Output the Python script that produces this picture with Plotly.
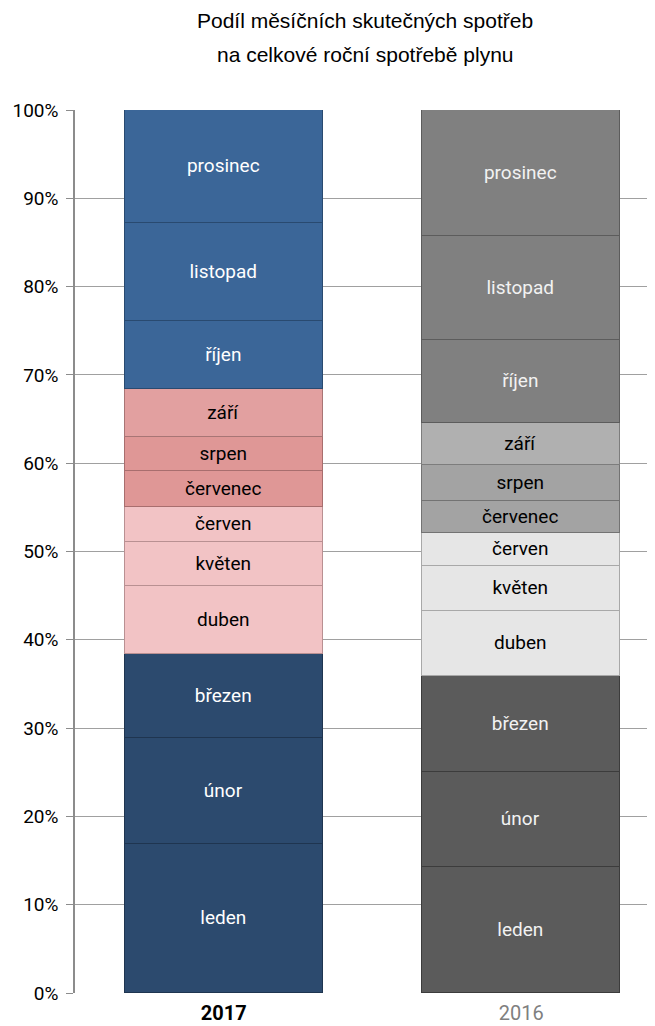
import plotly.graph_objects as go

years = ["2017", "2016"]
year_labels = ["<b>2017</b>", "<span style='color:#7f7f7f'>2016</span>"]
months = ["leden", "únor", "březen", "duben", "květen", "červen",
          "červenec", "srpen", "září", "říjen", "listopad", "prosinec"]
share_2017 = [16.87, 11.97, 9.52, 7.77, 4.91, 4.03, 4.08, 3.85, 5.40, 7.65, 11.12, 12.83]
share_2016 = [14.24, 10.82, 10.84, 7.40, 5.09, 3.67, 3.69, 4.05, 4.72, 9.43, 11.78, 14.27]
y_ticks = [0, 10, 20, 30, 40, 50, 60, 70, 80, 90, 100]
title_lines = ["Podíl měsíčních skutečných spotřeb", "na celkové roční spotřebě plynu"]

colors_2017 = ["#2c4a6e", "#2c4a6e", "#2c4a6e", "#f2c3c5", "#f2c3c5", "#f2c3c5",
               "#df9796", "#df9796", "#e2a0a0", "#3b6698", "#3b6698", "#3b6698"]
colors_2016 = ["#5b5b5b", "#5b5b5b", "#5b5b5b", "#e6e6e6", "#e6e6e6", "#e6e6e6",
               "#a3a3a3", "#a3a3a3", "#b0b0b0", "#808080", "#808080", "#808080"]
lines_2017 = ["#1f3550", "#1f3550", "#1f3550", "#b99092", "#b99092", "#b99092",
              "#a86e6e", "#a86e6e", "#a87575", "#294a70", "#294a70", "#294a70"]
lines_2016 = ["#3c3c3c", "#3c3c3c", "#3c3c3c", "#a8a8a8", "#a8a8a8", "#a8a8a8",
              "#737373", "#737373", "#7d7d7d", "#5c5c5c", "#5c5c5c", "#5c5c5c"]
text_2017 = ["white"] * 3 + ["black"] * 6 + ["white"] * 3
text_2016 = ["#f2f2f2"] * 3 + ["black"] * 6 + ["#f2f2f2"] * 3

LABEL_FONT = "Roboto, Liberation Sans, Arial, sans-serif"

fig = go.Figure()
for i, m in enumerate(months):
    fig.add_trace(go.Bar(
        x=years,
        y=[share_2017[i], share_2016[i]],
        width=0.666,
        name=m,
        text=[m, m],
        textposition="inside",
        insidetextanchor="middle",
        textangle=0,
        textfont=dict(color=[text_2017[i], text_2016[i]], size=19, family=LABEL_FONT),
        marker=dict(color=[colors_2017[i], colors_2016[i]],
                    line=dict(color=[lines_2017[i], lines_2016[i]], width=1.5)),
        hoverinfo="skip",
        showlegend=False,
    ))

fig.update_layout(
    barmode="stack",
    width=655, height=1026,
    margin=dict(l=67, r=8, t=102, b=41),
    paper_bgcolor="white", plot_bgcolor="white",
    font=dict(family=LABEL_FONT, color="black"),
    uniformtext=dict(minsize=19, mode="show"),
    bargap=0,
)
for line, yp in zip(title_lines, [1.1015, 1.0625]):
    fig.add_annotation(
        text=line, xref="paper", yref="paper", x=0.50, y=yp,
        xanchor="center", yanchor="middle", showarrow=False,
        font=dict(size=21, color="black", family="Liberation Sans, Arial, sans-serif"),
    )

fig.update_yaxes(
    range=[0, 100], tickvals=y_ticks, ticktext=[f"{v}%" for v in y_ticks],
    showgrid=True, gridcolor="#a0a0a0", gridwidth=1.3,
    showline=True, linecolor="#8c8c8c", linewidth=1.5,
    ticks="outside", ticklen=7, tickcolor="#8c8c8c", tickwidth=1.3,
    tickfont=dict(size=19, color="black", family=LABEL_FONT), zeroline=False,
    automargin=False, ticklabelstandoff=4,
)
fig.update_xaxes(
    type="category", categoryorder="array", categoryarray=years,
    range=[-0.5, 1.45], tickvals=years, ticktext=year_labels,
    tickfont=dict(size=20, color="black", family=LABEL_FONT), showline=False, ticks="",
    automargin=False, ticklabelstandoff=6,
)

fig.write_html("out.html")
